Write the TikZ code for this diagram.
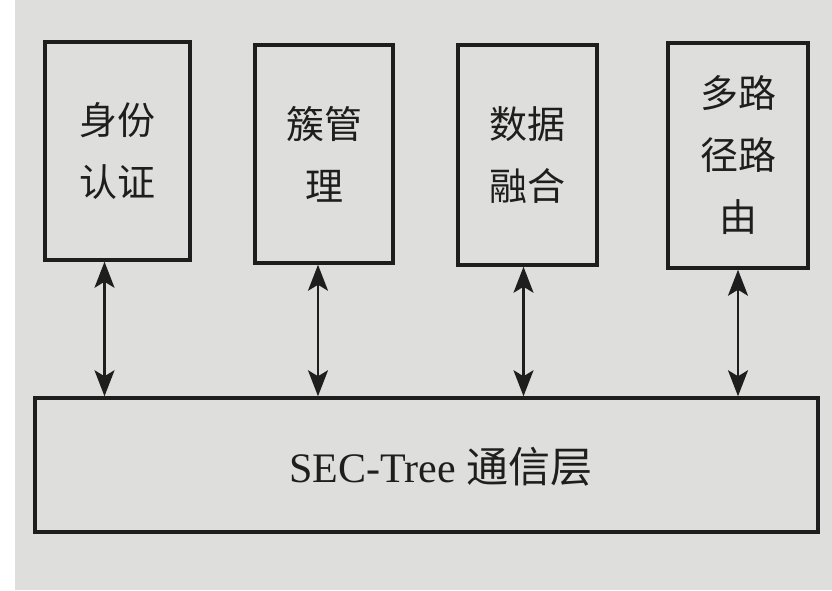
\documentclass[tikz,border=0pt]{standalone}
\usepackage{fontspec}
\setmainfont{Liberation Serif}
\newfontfamily\cjk{Noto Sans CJK SC}
\usetikzlibrary{arrows.meta}
\definecolor{paper}{RGB}{222,222,220}
\definecolor{ink}{RGB}{30,30,30}
\tikzset{
  modbox/.style={draw=ink, line width=3.5pt, inner sep=0pt, align=center,
    font=\cjk\fontsize{38}{62}\selectfont, text=ink},
  link/.style={draw=ink, line width=2.2pt,
    {Stealth[length=26pt,width=20pt,inset=6pt]}-{Stealth[length=26pt,width=20pt,inset=6pt]}}
}
\begin{document}
\begin{tikzpicture}[x=1pt,y=-1pt]
\useasboundingbox (0,0) rectangle (832,590);
\fill[white] (0,0) rectangle (832,590);
\fill[paper] (15,0) rectangle (832,590);
\node[modbox, minimum width=145pt, minimum height=218pt] (b1) at (117.5,151) {身份\\认证};
\node[modbox, minimum width=138pt, minimum height=218pt] (b2) at (324,154) {簇管\\理};
\node[modbox, minimum width=139pt, minimum height=220pt] (b3) at (527.5,155) {数据\\融合};
\node[modbox, minimum width=140pt, minimum height=225pt] (b4) at (738,155.5) {多路\\径路\\由};
\node[draw=ink, line width=3.5pt, minimum width=783pt, minimum height=134pt] (bot) at (426.5,465) {};
\node[text=ink, font=\fontsize{42}{50}\selectfont, inner sep=0pt] (bt) at (441,467) {SEC-Tree {\cjk 通信层}};
\draw[link] ([xshift=-13pt]b1.south) -- ([xshift=-13pt]b1.south |- bot.north);
\draw[link] ([xshift=-6pt]b2.south) -- ([xshift=-6pt]b2.south |- bot.north);
\draw[link] ([xshift=-4pt]b3.south) -- ([xshift=-4pt]b3.south |- bot.north);
\draw[link] (b4.south) -- (b4.south |- bot.north);
\end{tikzpicture}
\end{document}
